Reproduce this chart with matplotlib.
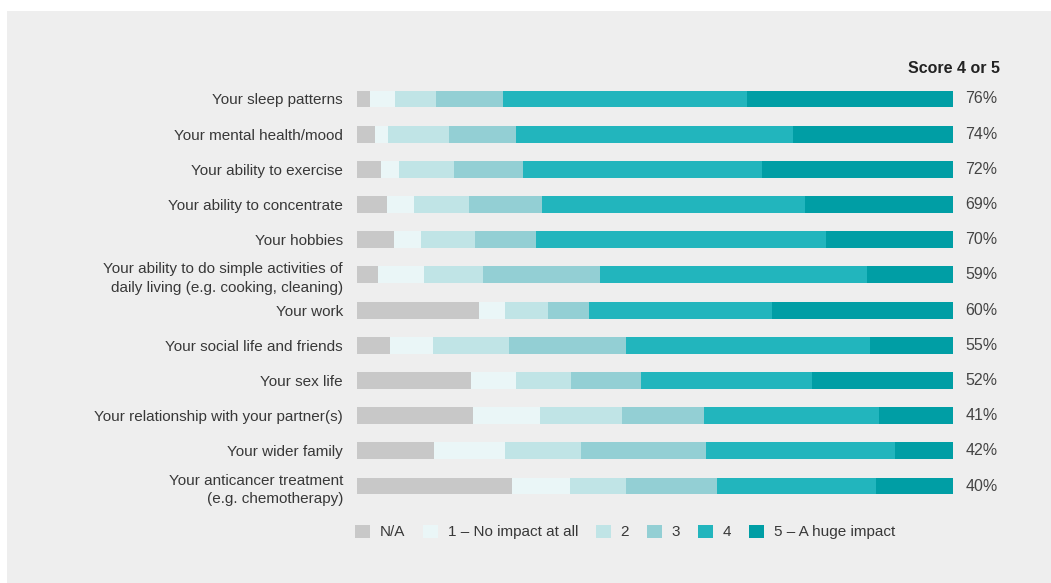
"""Impact of symptoms on daily life: 100% stacked horizontal bars."""

import matplotlib.pyplot as plt
import numpy as np
from matplotlib.patches import Rectangle

plt.rcParams["font.family"] = ["Liberation Sans", "DejaVu Sans"]

CATEGORIES = [
    "Your sleep patterns",
    "Your mental health/mood",
    "Your ability to exercise",
    "Your ability to concentrate",
    "Your hobbies",
    "Your ability to do simple activities of\ndaily living (e.g. cooking, cleaning)",
    "Your work",
    "Your social life and friends",
    "Your sex life",
    "Your relationship with your partner(s)",
    "Your wider family",
    "Your anticancer treatment\n(e.g. chemotherapy)",
]

SERIES = ["N/A", "1 – No impact at all", "2", "3", "4", "5 – A huge impact"]

NA = [2.2, 3.0, 4.0, 5.0, 6.2, 3.6, 20.5, 5.6, 19.1, 19.4, 12.9, 26.1]
S1 = [4.1, 2.2, 3.0, 4.6, 4.6, 7.6, 4.4, 7.1, 7.7, 11.4, 11.9, 9.7]
S2 = [7.0, 10.2, 9.2, 9.2, 9.1, 9.9, 7.1, 12.8, 9.1, 13.7, 12.8, 9.4]
S3 = [11.2, 11.2, 11.7, 12.2, 10.2, 19.6, 6.9, 19.6, 11.9, 13.7, 21.0, 15.2]
S4 = [41.0, 46.6, 40.1, 44.1, 48.7, 44.8, 30.7, 40.9, 28.7, 29.5, 31.7, 26.7]
S5 = [34.5, 26.8, 32.0, 24.8, 21.3, 14.5, 30.4, 14.0, 23.7, 12.4, 9.8, 13.0]

SCORE_45 = ["76%", "74%", "72%", "69%", "70%", "59%", "60%", "55%", "52%", "41%", "42%", "40%"]

COLORS = ["#c8c8c8", "#eaf6f7", "#c0e4e6", "#93cfd4", "#22b5bd", "#009ea5"]
TEXT = "#383838"

fig = plt.figure(figsize=(10.51, 5.83), dpi=100)
fig.patch.set_facecolor("white")
fig.patches.append(Rectangle((7 / 1051, 0), 1 - 7 / 1051, 1 - 11 / 583,
                             transform=fig.transFigure, facecolor="#eeeeee",
                             edgecolor="none", zorder=-10))

ax = fig.add_axes([357 / 1051, 0.1362, 596 / 1051, 0.7242])
ax.set_facecolor("none")

values = np.array([NA, S1, S2, S3, S4, S5])
values = values / values.sum(axis=0) * 100
y = np.arange(len(CATEGORIES))
left = np.zeros(len(CATEGORIES))
for name, vals, col in zip(SERIES, values, COLORS):
    ax.barh(y, vals, left=left, height=0.48, color=col, label=name, edgecolor="none")
    left += vals

ax.set_xlim(0, 100)
ax.set_ylim(len(CATEGORIES) - 0.5, -0.5)
ax.set_yticks(y)
ax.set_yticklabels(CATEGORIES, fontsize=11, color=TEXT)
for lab in ax.get_yticklabels():
    lab.set_linespacing(1.45)
ax.tick_params(axis="y", length=0, pad=10)
ax.set_xticks([])
for s in ax.spines.values():
    s.set_visible(False)

trans = ax.get_yaxis_transform()
for yi, txt in zip(y, SCORE_45):
    ax.text(1.0205, yi, txt, transform=trans, ha="left", va="center",
            fontsize=11.5, color="#444444")
ax.text(1.079, -0.88, "Score 4 or 5", transform=trans, ha="right", va="center",
        fontsize=11.5, fontweight="bold", color="#222222")

fs_px = 11 * 100 / 72
fig.legend(loc="center left", bbox_to_anchor=(355 / 1051, 1 - 532 / 583),
           ncol=6, frameon=False, fontsize=11, labelcolor=TEXT,
           borderaxespad=0, borderpad=0,
           handlelength=15 / fs_px, handleheight=15 / fs_px,
           handletextpad=9.6 / fs_px, columnspacing=18 / fs_px)

fig.savefig("out.png", dpi=100, facecolor=fig.get_facecolor())
